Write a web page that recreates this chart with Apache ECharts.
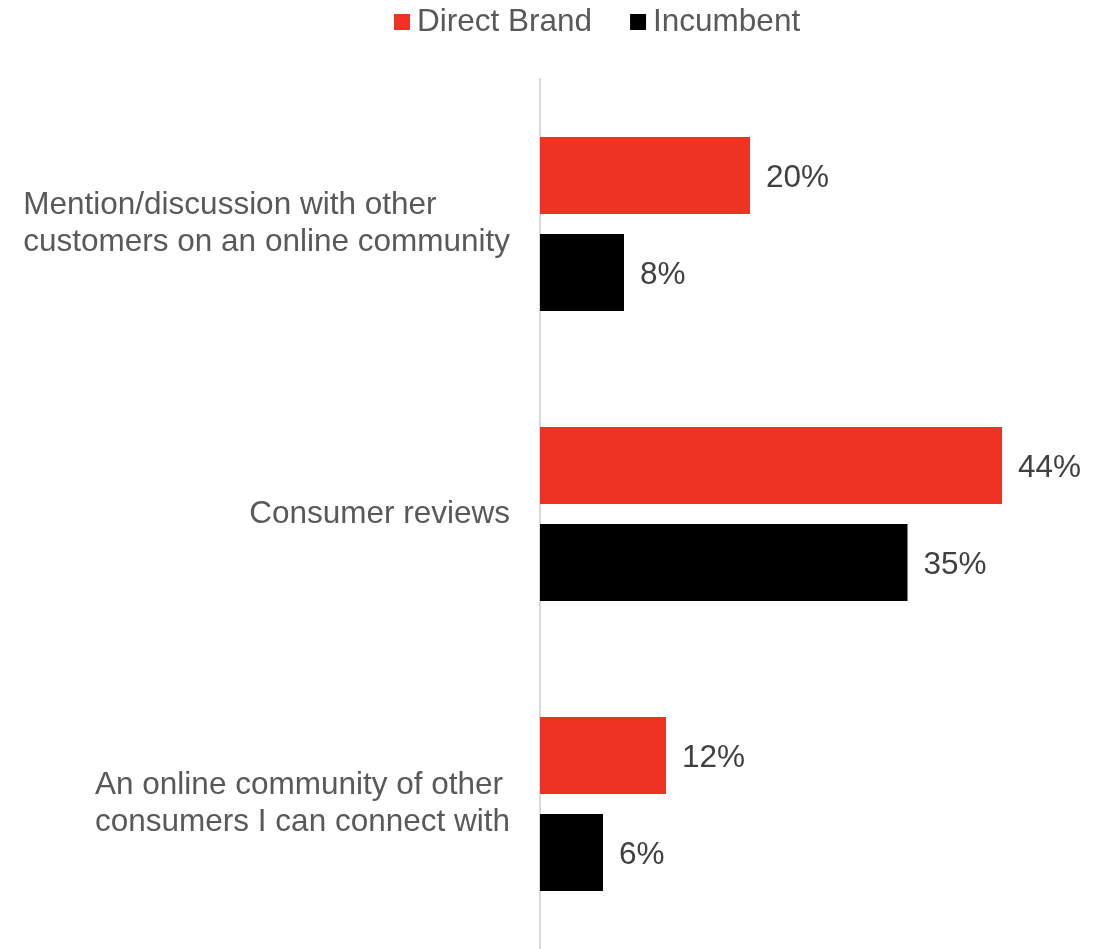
<!DOCTYPE html>
<html>
<head>
<meta charset="utf-8">
<style>
  html, body { margin: 0; padding: 0; background: #ffffff; }
  #chart { width: 1109px; height: 949px; }
</style>
<script src="https://cdn.jsdelivr.net/npm/echarts@6/dist/echarts.min.js"></script>
</head>
<body>
<div id="chart"></div>
<script>
// Sources of influence, share of respondents (%)
const categories = [
  'Mention/discussion with other\ncustomers on an online community',
  'Consumer reviews',
  'An online community of other\nconsumers I can connect with'
];
const seriesNames = ['Direct Brand', 'Incumbent'];
const directBrand = [20, 44, 12];
const incumbent = [8, 35, 6];

const FONT = "'Liberation Sans', Arial, Helvetica, sans-serif";
const FS = 31.5;

const chart = echarts.init(document.getElementById('chart'), null, { renderer: 'canvas' });

const valueLabel = {
  show: true,
  position: 'right',
  distance: 16,
  offset: [0, 3],
  formatter: '{c}%',
  color: '#404040',
  fontSize: FS,
  fontFamily: FONT
};

// Category labels: the block sits right-aligned against the axis,
// while each line inside it starts flush left.
const categoryLabel = (value) =>
  value.split('\n').map((line) => '{l|' + line + '}').join('\n');

chart.setOption({
  animation: false,
  backgroundColor: '#ffffff',
  legend: {
    left: 389,
    top: 1,
    icon: 'rect',
    itemWidth: 16,
    itemHeight: 16,
    itemGap: 38,
    data: seriesNames,
    textStyle: {
      color: '#595959',
      fontSize: FS,
      fontFamily: FONT,
      padding: [0, 0, 0, 2]
    }
  },
  grid: {
    left: 540,
    top: 79,
    width: 525,
    height: 871
  },
  xAxis: {
    type: 'value',
    min: 0,
    max: 50,
    show: false,
    splitLine: { show: false }
  },
  yAxis: {
    type: 'category',
    inverse: true,
    data: categories,
    axisTick: { show: false },
    axisLine: { show: true, lineStyle: { color: '#d9d9d9', width: 2 } },
    axisLabel: {
      margin: 30,
      color: '#595959',
      fontSize: FS,
      lineHeight: 37,
      fontFamily: FONT,
      formatter: categoryLabel,
      rich: {
        l: {
          align: 'left',
          color: '#595959',
          fontSize: FS,
          lineHeight: 37,
          fontFamily: FONT
        }
      }
    }
  },
  series: [
    {
      name: seriesNames[0],
      type: 'bar',
      data: directBrand,
      barWidth: 77,
      barGap: '26%',
      itemStyle: { color: '#ee3325' },
      label: valueLabel
    },
    {
      name: seriesNames[1],
      type: 'bar',
      data: incumbent,
      barWidth: 77,
      barGap: '26%',
      itemStyle: { color: '#000000' },
      label: valueLabel
    }
  ]
});
</script>
</body>
</html>
